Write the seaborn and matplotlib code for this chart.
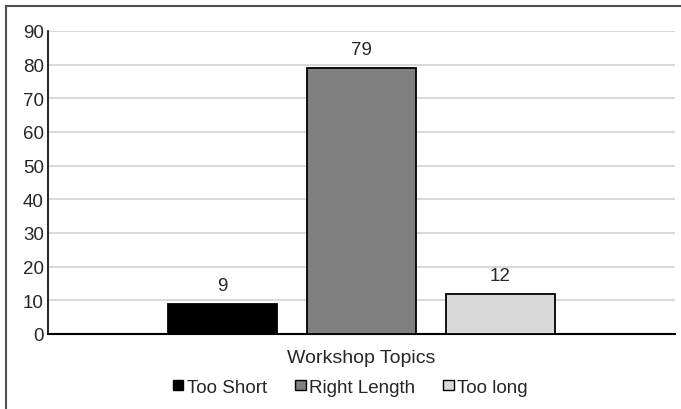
import pandas as pd
import seaborn as sns
import matplotlib.pyplot as plt
from matplotlib.patches import Rectangle

categories = ["Workshop Topics"]
series = ["Too Short", "Right Length", "Too long"]
values = [9, 79, 12]
colors = ["#000000", "#808080", "#d9d9d9"]

df = pd.DataFrame({"cat": categories * len(series), "series": series, "value": values})

sns.set_style("white")
plt.rcParams["font.family"] = ["Liberation Sans", "DejaVu Sans"]

fig = plt.figure(figsize=(6.81, 4.10), dpi=100)
ax = fig.add_axes([48 / 681, 1 - 335 / 410, 627 / 681, 303 / 410])

sns.barplot(data=df, x="cat", y="value", hue="series", palette=colors,
            width=0.665, gap=0.21, edgecolor="black", linewidth=1.3,
            ax=ax, legend=True, zorder=3)

ax.set_ylim(0, 90)
ax.set_xlim(-0.5, 0.5)
ax.set_yticks(range(0, 91, 10))
ax.yaxis.grid(True, color="#d9d9d9", linewidth=1.5, zorder=0)
ax.set_axisbelow(True)
for s in ["top", "right"]:
    ax.spines[s].set_visible(False)
ax.spines["left"].set_color("black")
ax.spines["left"].set_linewidth(1.2)
ax.spines["bottom"].set_color("black")
ax.spines["bottom"].set_linewidth(1.5)
ax.tick_params(axis="y", length=0, labelsize=13.5, pad=3)
ax.tick_params(axis="x", length=0, labelsize=14, pad=10.5)
ax.set_xlabel("")
ax.set_ylabel("")

for c in ax.containers:
    ax.bar_label(c, fontsize=13.5, padding=7)

leg = ax.legend(loc="center", bbox_to_anchor=(0.482, -0.175), ncol=3, frameon=False,
                fontsize=13.5, handlelength=0.58, handleheight=0.42, handletextpad=0.17,
                columnspacing=1.5)
for h in leg.legend_handles:
    h.set_linewidth(1.0)

# chart border (cropped at right and bottom)
fig.patches.append(Rectangle((6 / 681, -0.1), 1.2, 1 - 7 / 410 + 0.1,
                             transform=fig.transFigure, fill=False,
                             edgecolor="#505050", linewidth=1.5))

fig.savefig("out.png", dpi=100)
